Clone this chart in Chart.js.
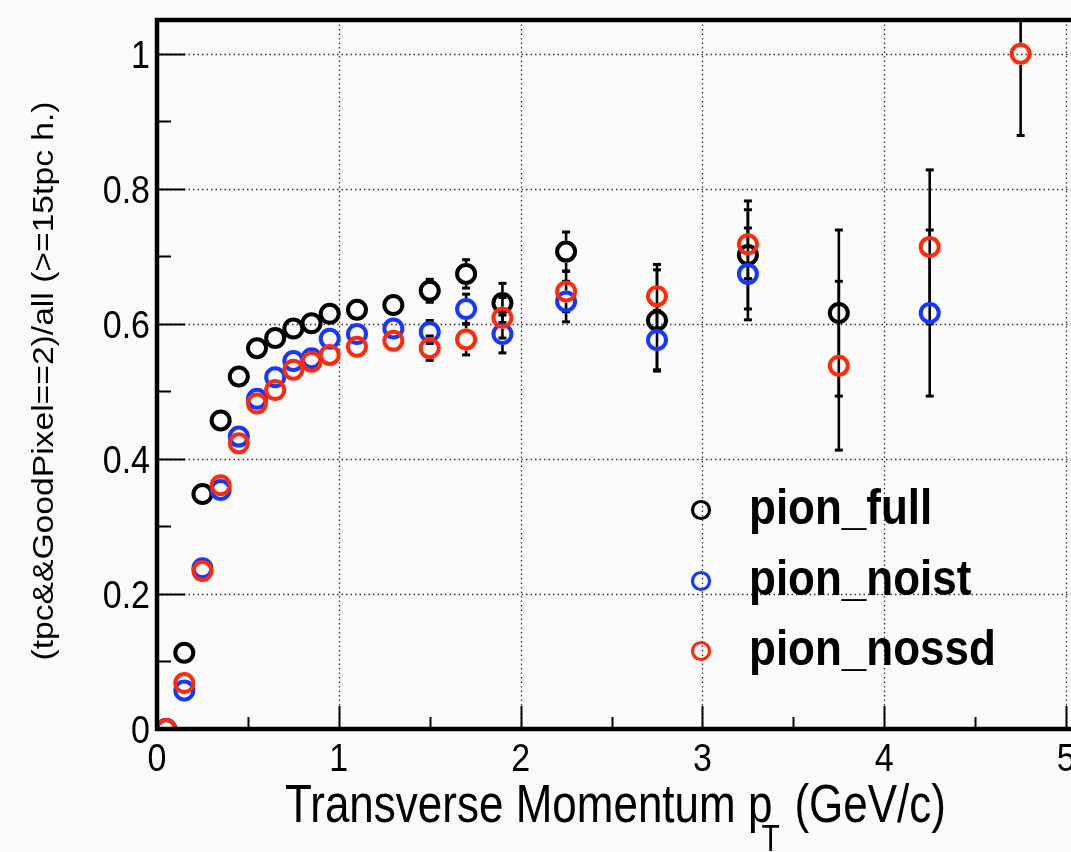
<!DOCTYPE html>
<html lang="en">
<head>
  <meta charset="UTF-8" />
  <title>Pion efficiency vs pT</title>
  <script src="https://cdn.jsdelivr.net/npm/chart.js"></script>
  <style>
    body { margin: 0; background: #fbfbfb; }
    #wrap { width: 1071px; height: 852px; }
  </style>
</head>
<body>
  <div id="wrap"><canvas id="effChart" width="1071" height="852"></canvas></div>

  <script>
    // bin centres (GeV/c)
    const ptBins = [0.05, 0.15, 0.25, 0.35, 0.45, 0.55, 0.65, 0.75, 0.85, 0.95,
                    1.1, 1.3, 1.5, 1.7, 1.9, 2.25, 2.75, 3.25, 3.75, 4.25, 4.75];

    const pionFull  = [0, 0.113, 0.348, 0.457, 0.522, 0.564, 0.579, 0.593, 0.601, 0.615,
                       0.621, 0.628, 0.649, 0.674, 0.631, 0.707, 0.605, 0.702, 0.616, null, null];
    const pionNoist = [0, 0.057, 0.238, 0.354, 0.433, 0.489, 0.521, 0.545, 0.549, 0.578,
                       0.585, 0.593, 0.588, 0.622, 0.585, 0.633, 0.576, 0.674, null, 0.616, null];
    const pionNossd = [0, 0.068, 0.234, 0.361, 0.423, 0.482, 0.502, 0.532, 0.544, 0.554,
                       0.566, 0.575, 0.564, 0.577, 0.609, 0.648, 0.641, 0.718, 0.538, 0.714, 1.0];

    const errFull  = [0, 0.004, 0.006, 0.006, 0.006, 0.006, 0.006, 0.006, 0.007, 0.008,
                      0.009, 0.015, 0.017, 0.021, 0.029, 0.029, 0.075, 0.08, 0.123, null, null];
    const errNoist = [0, 0.004, 0.006, 0.006, 0.006, 0.007, 0.007, 0.007, 0.008, 0.009,
                      0.01, 0.012, 0.017, 0.022, 0.028, 0.03, 0.044, 0.068, null, 0.123, null];
    const errNossd = [0, 0.004, 0.006, 0.006, 0.006, 0.007, 0.007, 0.007, 0.008, 0.009,
                      0.01, 0.012, 0.018, 0.023, 0.03, 0.03, 0.047, 0.051, 0.125, 0.114, 0.121];

    const xTicks = [0, 1, 2, 3, 4, 5];
    const yTicks = [0, 0.2, 0.4, 0.6, 0.8, 1];
    const yTickLabels = ['0', '0.2', '0.4', '0.6', '0.8', '1'];

    const seriesNames = ['pion_full', 'pion_noist', 'pion_nossd'];
    const seriesColors = ['#000000', '#1438ff', '#ff2a0a'];

    const FONT = '"Liberation Sans", Arial, sans-serif';

    function toPoints(ys) {
      return ptBins.map((x, i) => ({ x, y: ys[i] })).filter(p => p.y !== null);
    }

    function stretchText(ctx, str, x, y, font, align, sy) {
      ctx.save();
      ctx.translate(x, y);
      ctx.scale(1, sy);
      ctx.font = font;
      ctx.textAlign = align;
      ctx.textBaseline = 'alphabetic';
      ctx.fillText(str, 0, 0);
      ctx.restore();
    }

    const allErrors = [errFull, errNoist, errNossd];
    const allValues = [pionFull, pionNoist, pionNossd];

    const rootFrame = {
      id: 'rootFrame',
      beforeDraw(chart) {
        const ctx = chart.ctx;
        ctx.save();
        ctx.fillStyle = '#fbfbfb';
        ctx.fillRect(0, 0, chart.width, chart.height);
        ctx.restore();
      },
      beforeDatasetsDraw(chart) {
        const { ctx, chartArea: a, scales: { x, y } } = chart;
        ctx.save();
        // dotted grid
        ctx.strokeStyle = '#333';
        ctx.lineWidth = 1.3;
        ctx.setLineDash([1.5, 3]);
        xTicks.forEach(v => {
          if (v === 0) return;
          const px = Math.round(x.getPixelForValue(v)) + 0.5;
          ctx.beginPath(); ctx.moveTo(px, a.top); ctx.lineTo(px, a.bottom); ctx.stroke();
        });
        yTicks.forEach(v => {
          if (v === 0) return;
          const py = Math.round(y.getPixelForValue(v)) + 0.5;
          ctx.beginPath(); ctx.moveTo(a.left, py); ctx.lineTo(a.right, py); ctx.stroke();
        });
        ctx.setLineDash([]);

        // error bars (black), gap inside the marker
        ctx.beginPath();
        ctx.rect(a.left, a.top, a.right - a.left, a.bottom - a.top);
        ctx.clip();
        ctx.strokeStyle = '#000';
        const r = 11;
        allValues.forEach((vals, s) => {
          vals.forEach((v, i) => {
            const e = allErrors[s][i];
            if (v === null || !e) return;
            const px = x.getPixelForValue(ptBins[i]);
            const pc = y.getPixelForValue(v);
            const pt = y.getPixelForValue(v + e);
            const pb = y.getPixelForValue(v - e);
            if (pc - pt <= r) return;
            ctx.lineWidth = 2.6;
            ctx.beginPath(); ctx.moveTo(px, pt); ctx.lineTo(px, pc - r); ctx.stroke();
            ctx.beginPath(); ctx.moveTo(px, pc + r); ctx.lineTo(px, pb); ctx.stroke();
            ctx.lineWidth = 3;
            ctx.beginPath(); ctx.moveTo(px - 4, pt); ctx.lineTo(px + 4, pt); ctx.stroke();
            ctx.beginPath(); ctx.moveTo(px - 4, pb); ctx.lineTo(px + 4, pb); ctx.stroke();
          });
        });
        ctx.restore();
      },
      afterDraw(chart) {
        const { ctx, chartArea: a, scales: { x, y } } = chart;
        ctx.save();
        ctx.strokeStyle = '#000';
        ctx.fillStyle = '#000';

        // tick marks, pointing inside the frame
        ctx.lineWidth = 2;
        for (let k = 0; k <= 10; k++) {
          const py = Math.round(y.getPixelForValue(k * 0.1)) + 0.5;
          const len = k % 2 === 0 ? 28 : 14;
          ctx.beginPath(); ctx.moveTo(a.left, py); ctx.lineTo(a.left + len, py); ctx.stroke();
        }
        for (let k = 0; k <= 10; k++) {
          const px = Math.round(x.getPixelForValue(k * 0.5)) + 0.5;
          const len = k % 2 === 0 ? 23 : 12;
          ctx.beginPath(); ctx.moveTo(px, a.bottom); ctx.lineTo(px, a.bottom - len); ctx.stroke();
        }

        // frame: left, bottom, top
        ctx.lineWidth = 4.5;
        ctx.beginPath();
        ctx.moveTo(a.right + 5, a.top);
        ctx.lineTo(a.left, a.top);
        ctx.lineTo(a.left, a.bottom);
        ctx.lineTo(a.right + 5, a.bottom);
        ctx.stroke();

        // tick labels
        const tickFont = '34px ' + FONT;
        yTicks.forEach((v, i) => {
          stretchText(ctx, yTickLabels[i], 150, y.getPixelForValue(v) + 14, tickFont, 'right', 1.12);
        });
        xTicks.forEach(v => {
          stretchText(ctx, String(v), x.getPixelForValue(v), 771, tickFont, 'center', 1.12);
        });

        // x title with subscript
        const tFont = '44px ' + FONT;
        ctx.font = tFont;
        const main = 'Transverse Momentum p';
        const x0 = 285;
        const w0 = ctx.measureText(main).width;
        stretchText(ctx, main, x0, 822, tFont, 'left', 1.2);
        stretchText(ctx, 'T', x0 + w0 - 11, 851, '30px ' + FONT, 'left', 1.2);
        stretchText(ctx, '(GeV/c)', x0 + w0 + 22, 822, tFont, 'left', 1.2);

        // y title
        ctx.save();
        ctx.translate(45, 381);
        ctx.rotate(-Math.PI / 2);
        ctx.scale(1.16, 1);
        ctx.font = '29px ' + FONT;
        ctx.textAlign = 'center';
        ctx.textBaseline = 'middle';
        ctx.fillText('(tpc&&GoodPixel==2)/all (>=15tpc h.)', 0, 0);
        ctx.restore();

        // legend
        const rows = [510, 581, 651];
        seriesNames.forEach((name, i) => {
          ctx.strokeStyle = seriesColors[i];
          ctx.lineWidth = 3.2;
          ctx.beginPath();
          ctx.arc(701, rows[i], 8.5, 0, Math.PI * 2);
          ctx.stroke();
          ctx.fillStyle = '#000';
          stretchText(ctx, name, 749, rows[i] + 14, 'bold 44px ' + FONT, 'left', 1.12);
        });
        ctx.restore();
      }
    };

    const ctx = document.getElementById('effChart').getContext('2d');
    new Chart(ctx, {
      type: 'scatter',
      data: {
        datasets: [
          { label: seriesNames[0], data: toPoints(pionFull), borderColor: seriesColors[0], order: 3 },
          { label: seriesNames[1], data: toPoints(pionNoist), borderColor: seriesColors[1], order: 2 },
          { label: seriesNames[2], data: toPoints(pionNossd), borderColor: seriesColors[2], order: 1 }
        ].map(d => Object.assign(d, {
          backgroundColor: 'rgba(0,0,0,0)',
          pointRadius: 9,
          pointBorderWidth: 4,
          pointStyle: 'circle',
          showLine: false
        }))
      },
      options: {
        responsive: false,
        animation: false,
        layout: { autoPadding: false, padding: { left: 157, top: 20, right: 0, bottom: 123 } },
        scales: {
          x: { type: 'linear', min: 0, max: 5.027, display: false },
          y: { type: 'linear', min: 0, max: 1.05, display: false }
        },
        plugins: {
          legend: { display: false },
          tooltip: { enabled: false }
        }
      },
      plugins: [rootFrame]
    });
  </script>
</body>
</html>
